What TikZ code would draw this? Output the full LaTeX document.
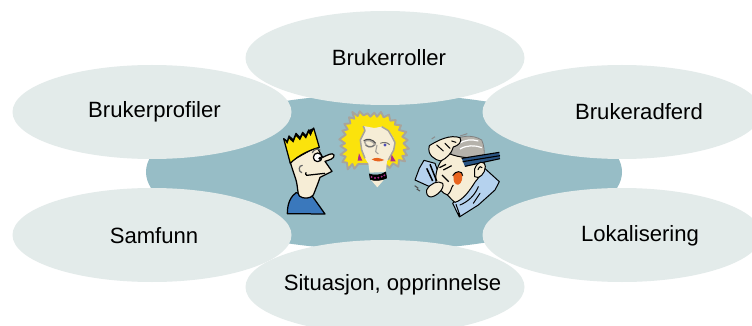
\documentclass[tikz,border=0pt]{standalone}
\usepackage{fontspec}
\usetikzlibrary{shapes.geometric}
\setmainfont{Liberation Sans}
\definecolor{pale}{HTML}{E3EBEA}
\definecolor{teal}{HTML}{97BDC6}
\definecolor{hairy}{HTML}{FBE30C}
\definecolor{skin}{HTML}{F6EDD6}
\definecolor{shirtb}{HTML}{3A78BC}
\definecolor{lightb}{HTML}{B5D2EE}
\definecolor{greyh}{HTML}{A8A49C}
\definecolor{magen}{HTML}{B02A8C}
\definecolor{orng}{HTML}{E8641E}
\tikzset{
  petal/.style={ellipse,fill=pale,minimum width=279pt,minimum height=94pt,inner sep=0pt},
  hub/.style={ellipse,fill=teal,minimum width=476pt,minimum height=156pt,inner sep=0pt},
  lab/.style={font=\fontsize{22.1}{26}\selectfont,inner sep=0pt},
  ink/.style={draw=black,line width=1.25pt,line join=round,line cap=round},
  thin ink/.style={draw=black,line width=1pt,line join=round,line cap=round}
}
\begin{document}
\begin{tikzpicture}[x=1pt,y=-1pt]
\useasboundingbox (0,0) rectangle (752,326);
\fill[white] (0,0) rectangle (752,326);
\begin{scope}
\clip (0,0) rectangle (752,326);
\node[hub] (center) at (384,172) {};
\node[petal] (roller) at (385,58) {};
\node[petal] (profiler) at (152,112) {};
\node[petal] (adferd) at (622,112) {};
\node[petal] (samfunn) at (152,235) {};
\node[petal] (lokal) at (622,235) {};
\node[petal] (situ) at (385,287) {};
\end{scope}
\node[lab] (t1) at (389,58) {Brukerroller};
\node[lab] (t2) at (154.5,112) {Brukerprofiler};
\node[lab] (t3) at (639,112) {Brukeradferd};
\node[lab] (t4) at (154,236) {Samfunn};
\node[lab] (t5) at (640,236) {Lokalisering};
\node[lab] (t6) at (392.5,285) {Situasjon, opprinnelse};
% man with crown
\begin{scope}[shift={(270,100)},scale=1/3]
\filldraw[ink,fill=shirtb] (52,341) .. controls (52,310) and (62,290) .. (78,278) -- (128,290) -- (165,342) -- cycle;
\filldraw[ink,fill=skin] (60,185) -- (78,240) .. controls (84,262) and (82,280) .. (88,288) .. controls (100,298) and (122,296) .. (130,285) .. controls (138,265) and (146,245) .. (150,232) -- (186,214) -- (165,184) .. controls (178,180) and (194,176) .. (192,165) .. controls (188,156) and (172,166) .. (158,172) -- (140,140) -- cycle;
\filldraw[ink,fill=hairy] (41,116) -- (52,124) -- (57,108) -- (70,120) -- (78,100) -- (90,113) -- (98,97) -- (108,108) -- (116,90) -- (122,100) -- (131,84) -- (148,142) .. controls (120,150) and (85,165) .. (61,190) -- cycle;
\fill (41,116) -- (52,132) -- (57,116) -- (70,128) -- (78,108) -- (90,121) -- (98,105) -- (108,116) -- (116,98) -- (122,108) -- (131,84) -- (116,90) -- (108,108) -- (98,97) -- (90,113) -- (78,100) -- (70,120) -- (57,108) -- (52,124) -- cycle;
\filldraw[ink,fill=white] (143,172) circle (13);
\fill (150,175) circle (5.5);
\draw[ink,draw=black!60] (127,158) .. controls (132,148) and (142,144) .. (150,150);
\draw[ink,draw=black!60] (97,196) .. controls (86,196) and (84,214) .. (95,218);
\draw[ink] (110,226) -- (164,220);
\draw[ink] (110,226) .. controls (106,224) and (106,220) .. (108,218);
\end{scope}
% woman
\begin{scope}[shift={(335,100)},scale=1/3]
\filldraw[draw=greyh,line width=1.9pt,fill=hairy,line join=round] (13,118) -- (32,104) -- (22,92) -- (38,88) -- (28,72) -- (46,70) -- (42,52) -- (58,56) -- (52,36) -- (68,48) -- (74,34) -- (86,46) -- (98,40) -- (106,50) -- (118,38) -- (126,50) -- (138,36) -- (146,52) -- (162,44) -- (166,62) -- (182,60) -- (180,74) -- (198,76) -- (192,90) -- (214,96) -- (202,110) -- (218,120) -- (206,130) -- (222,146) -- (206,150) -- (216,166) -- (202,168) -- (210,184) -- (192,180) -- (190,200) -- (174,190) -- (164,204) -- (150,192) -- (70,192) -- (58,206) -- (52,192) -- (38,208) -- (36,188) -- (22,186) -- (32,170) -- (16,164) -- (34,150) -- (16,138) -- (30,130) -- cycle;
\fill[skin] (85,78) -- (118,84) -- (140,80) .. controls (160,88) and (178,108) .. (180,128) .. controls (178,150) and (165,172) .. (156,184) -- (152,216) -- (104,218) -- (100,190) .. controls (90,178) and (78,150) .. (76,120) -- (90,92) -- cycle;
\draw[greyh,line width=1.5pt,line join=round] (85,78) -- (90,92) -- (76,120) -- (80,150) -- (90,175);
\draw[greyh,line width=1.5pt,line join=round] (140,80) -- (160,92) -- (172,112) -- (180,128) -- (176,150) -- (160,180);
\draw[greyh,line width=1.5pt] (88,124) .. controls (98,118) and (114,122) .. (120,134) .. controls (108,146) and (92,142) .. (88,124);
\draw[black!70,line width=1pt] (86,122) .. controls (98,114) and (114,118) .. (122,130);
\draw[black!55,line width=1pt] (92,136) .. controls (100,142) and (110,142) .. (118,136);
\draw[greyh!70!black,line width=1pt] (136,130) .. controls (144,126) and (156,126) .. (164,134);
\fill[blue!60!black!70] (150,135) circle (5);
\draw[greyh,line width=1.1pt] (126,135) -- (122,155) -- (130,162);
\fill[orng] (110,178) .. controls (122,172) and (130,172) .. (148,180) .. controls (136,186) and (122,186) .. (110,178) -- cycle;
\fill[magen] (72,160) -- (82,182) -- (68,182) -- cycle;
\fill[magen] (170,164) -- (182,184) -- (166,184) -- cycle;
\fill[skin] (108,240) -- (146,240) -- (127,262) -- cycle;
\filldraw[black,line width=.6pt,fill=black] (103,222) .. controls (115,228) and (140,226) .. (152,216) -- (155,234) .. controls (140,242) and (118,244) .. (106,238) -- cycle;
\foreach \p/\q in {110/231,120/234,130/233,140/230,148/226}{\fill[magen] (\p,\q) circle (3.2);}
\end{scope}
% old man
\begin{scope}[shift={(410,125)},scale=1/3]
\filldraw[thin ink,fill=lightb] (15,165) -- (28,130) -- (42,106) -- (75,115) -- (100,185) -- (70,190) -- cycle;
\filldraw[thin ink,fill=lightb] (190,160) -- (222,128) -- (268,170) -- (255,195) -- (205,240) -- (148,276) -- (128,235) -- cycle;
\draw[thin ink] (138,238) -- (150,272) (150,240) .. controls (175,230) and (195,210) .. (205,185) (190,235) -- (210,205);
\filldraw[draw=black!50,line width=.8pt,fill=greyh!85!white] (120,60) .. controls (140,28) and (190,28) .. (215,45) .. controls (222,60) and (224,80) .. (222,92) -- (165,110) -- (125,90) -- cycle;
\draw[white,line width=1.2pt] (146,56) .. controls (165,44) and (185,42) .. (205,48);
\draw[white,line width=1.2pt] (150,72) .. controls (170,60) and (195,60) .. (216,68);
\draw[black!45,line width=1pt] (65,42) -- (75,35) (150,33) -- (172,26);
\filldraw[thin ink,fill=skin] (115,85) .. controls (150,100) and (190,100) .. (222,98) .. controls (226,130) and (212,152) .. (196,170) .. controls (180,195) and (160,225) .. (135,232) .. controls (125,225) and (118,215) .. (112,210) .. controls (98,205) and (84,190) .. (78,170) .. controls (74,140) and (88,105) .. (115,85) -- cycle;
\fill[shirtb!70!black] (155,100) -- (268,82) -- (270,100) -- (165,125) -- cycle;
\draw[black,line width=1.1pt] (155,100) -- (268,82) (158,110) -- (270,92) (165,124) -- (270,101);
\filldraw[thin ink,fill=skin] (194,132) .. controls (202,108) and (224,104) .. (226,125) .. controls (226,145) and (207,165) .. (194,155) -- cycle;
\draw[thin ink] (204,134) .. controls (208,124) and (214,122) .. (216,128);
\fill[orng] (130,150) .. controls (136,136) and (158,138) .. (157,152) .. controls (158,170) and (148,184) .. (138,178) .. controls (130,172) and (130,160) .. (130,150) -- cycle;
\draw[black,line width=1pt] (128,152) .. controls (136,136) and (158,136) .. (158,152);
\draw[black,line width=1.2pt] (100,135) -- (125,122) (96,150) -- (116,170) (88,128) -- (108,118);
\draw[black,line width=1pt] (112,210) .. controls (125,200) and (122,188) .. (130,180);
\filldraw[thin ink,fill=skin] (58,62) .. controls (85,45) and (120,28) .. (150,38) .. controls (158,50) and (145,62) .. (130,66) .. controls (125,85) and (110,100) .. (92,108) .. controls (75,105) and (50,90) .. (58,62) -- cycle;
\draw[thin ink] (80,60) -- (100,78) (105,55) -- (120,70) (125,48) -- (138,52);
\draw[black,line width=1.5pt] (60,118) -- (80,168) (50,130) -- (68,168);
\filldraw[thin ink,fill=skin] (50,195) .. controls (60,175) and (85,165) .. (98,175) .. controls (105,190) and (80,215) .. (62,216) .. controls (52,215) and (48,205) .. (50,195) -- cycle;
\draw[black!70,line width=1pt] (14,182) -- (25,190) (20,192) -- (30,198);
\fill[black] (145,265) rectangle (150,274);
\end{scope}
\end{tikzpicture}
\end{document}
